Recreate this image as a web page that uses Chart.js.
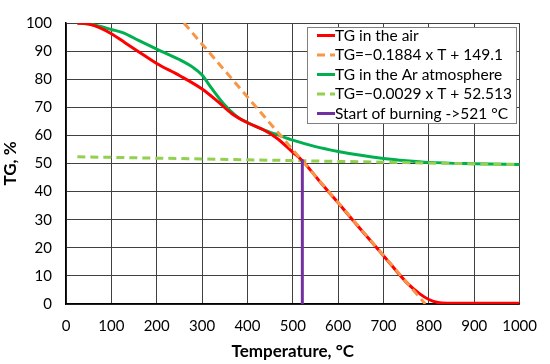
<!DOCTYPE html>
<html>
<head>
<meta charset="utf-8">
<script src="https://cdn.jsdelivr.net/npm/chart.js@4.4.0/dist/chart.umd.min.js"></script>
<style>
  html, body { margin: 0; padding: 0; background: #fff; }
  #wrap { width: 550px; height: 364px; }
</style>
</head>
<body>
<div id="wrap"><canvas id="tgChart" width="550" height="364"></canvas></div>
<script>
// TG in air
const airTemp = [25, 50, 75, 100, 130, 160, 200, 250, 300, 335, 365, 400, 435, 465, 500, 521, 560, 600, 650, 700, 750, 780, 800, 820, 840, 1000];
const airTG = [100, 99.6, 98.3, 96.2, 93, 89.8, 85.6, 81.3, 76.5, 72, 67.8, 64.5, 62, 59, 54, 51, 43.5, 36, 26.5, 17.2, 7.8, 3.6, 1.6, 0.5, 0.3, 0.3];

// TG in Ar atmosphere
const arTemp = [25, 60, 100, 125, 160, 200, 250, 280, 300, 320, 350, 380, 400, 436, 470, 500, 550, 600, 650, 700, 750, 800, 900, 1000];
const arTG = [100, 99.4, 97.7, 96.6, 93.8, 90.7, 87, 84.2, 81.5, 77, 70.8, 66.3, 64.6, 62, 60, 58.3, 56, 54.3, 52.9, 51.8, 51, 50.4, 49.9, 49.6];

// fitted lines, end points
const airFitTemp = [260, 792];
const airFitTG = [100, 0];
const arFitTemp = [25, 1000];
const arFitTG = [52.4, 49.6];

// start of burning marker
const burnTemp = [521, 521];
const burnTG = [0, 51.4];

const xTicks = [0, 100, 200, 300, 400, 500, 600, 700, 800, 900, 1000];
const yTicks = [0, 10, 20, 30, 40, 50, 60, 70, 80, 90, 100];

const FONT = "Lato, 'Open Sans', sans-serif";

function toPoints(xs, ys) {
  return xs.map((x, i) => ({ x: x, y: ys[i] }));
}

// legend box drawn inside the plot area
const boxLegend = {
  id: "boxLegend",
  afterDraw(chart) {
    const ctx = chart.ctx;
    const items = chart.data.datasets;
    const left = 307, top = 27, width = 209, rowH = 19.5;
    const height = 96;
    ctx.save();
    ctx.fillStyle = "#fff";
    ctx.fillRect(left, top, width, height);
    ctx.strokeStyle = "#7f7f7f";
    ctx.lineWidth = 1;
    ctx.strokeRect(left + 0.5, top + 0.5, width, height);
    ctx.font = "15.5px " + FONT;
    ctx.textBaseline = "middle";
    ctx.textAlign = "left";
    items.forEach((ds, i) => {
      const y = top + 8.5 + rowH * i;
      ctx.strokeStyle = ds.borderColor;
      ctx.lineWidth = 3;
      ctx.setLineDash(ds.borderDash || []);
      ctx.beginPath();
      ctx.moveTo(left + 10, y);
      ctx.lineTo(left + 28, y);
      ctx.stroke();
      ctx.setLineDash([]);
      ctx.fillStyle = "#000";
      ctx.fillText(ds.label, left + 28, y);
    });
    ctx.restore();
  }
};

new Chart(document.getElementById("tgChart").getContext("2d"), {
  type: "line",
  data: {
    datasets: [
      {
        label: "TG in the air",
        data: toPoints(airTemp, airTG),
        borderColor: "#ff0000",
        borderWidth: 3,
        pointRadius: 0,
        cubicInterpolationMode: "monotone",
        order: 2
      },
      {
        label: "TG=\u22120.1884 x T + 149.1",
        data: toPoints(airFitTemp, airFitTG),
        borderColor: "#f79646",
        borderWidth: 3,
        borderDash: [8, 5],
        pointRadius: 0,
        order: 1
      },
      {
        label: "TG in the Ar atmosphere",
        data: toPoints(arTemp, arTG),
        borderColor: "#00b050",
        borderWidth: 3,
        pointRadius: 0,
        cubicInterpolationMode: "monotone",
        order: 4
      },
      {
        label: "TG=\u22120.0029 x T + 52.513",
        data: toPoints(arFitTemp, arFitTG),
        borderColor: "#92d050",
        borderWidth: 3,
        borderDash: [8, 5],
        pointRadius: 0,
        order: 3
      },
      {
        label: "Start of burning ->521 \u00b0C",
        data: toPoints(burnTemp, burnTG),
        borderColor: "#7030a0",
        borderWidth: 3,
        pointRadius: 0,
        order: 0
      }
    ]
  },
  options: {
    responsive: false,
    animation: false,
    layout: { padding: { top: 18, right: 24, left: 0, bottom: 0 } },
    plugins: {
      legend: { display: false },
      tooltip: { enabled: false }
    },
    scales: {
      x: {
        type: "linear",
        min: 0,
        max: 1000,
        afterBuildTicks: (axis) => { axis.ticks = xTicks.map((v) => ({ value: v })); },
        afterFit: (axis) => { axis.height = 60; },
        grid: { color: "#404040", lineWidth: 1, drawTicks: false },
        border: { color: "#000", width: 1.5 },
        ticks: {
          color: "#000",
          font: { family: FONT, size: 15 },
          padding: 13,
          maxRotation: 0,
          callback: (v) => String(v)
        },
        title: {
          display: true,
          text: "Temperature, \u00b0C",
          color: "#000",
          font: { family: FONT, size: 17, weight: "bold" },
          padding: { top: 0, bottom: 2 }
        }
      },
      y: {
        min: 0,
        max: 100,
        afterBuildTicks: (axis) => { axis.ticks = yTicks.map((v) => ({ value: v })); },
        afterFit: (axis) => { axis.width = 66; },
        grid: { color: "#404040", lineWidth: 1, drawTicks: false },
        border: { color: "#000", width: 1.5 },
        ticks: { color: "#000", font: { family: FONT, size: 15 }, padding: 14 },
        title: {
          display: true,
          text: "TG, %",
          color: "#000",
          font: { family: FONT, size: 17, weight: "bold" },
          padding: { top: 0, bottom: 2 }
        }
      }
    }
  },
  plugins: [boxLegend]
});
</script>
</body>
</html>
